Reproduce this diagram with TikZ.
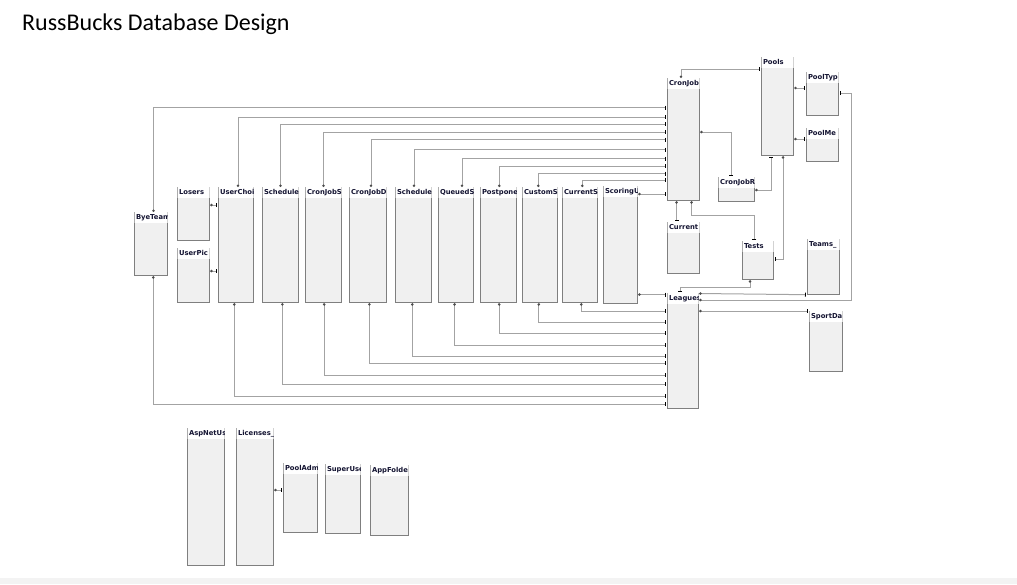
\documentclass[tikz,border=0pt]{standalone}
\usepackage{fontspec}
\usetikzlibrary{arrows.meta}
\newfontfamily\titlefont{Carlito}
\newfontfamily\tblfont{DejaVu Sans}
\definecolor{tblborder}{HTML}{7F7F7F}
\definecolor{tblfill}{HTML}{F0F0F0}
\definecolor{linegray}{HTML}{A3A3A3}
\definecolor{lblcolor}{HTML}{141432}
\definecolor{barfill}{HTML}{F3F3F3}
% header strip and clipped caption of a table box
\newcommand{\tblhead}[2]{%
  \begin{scope}
    \clip ([shift={(0.6pt,-0.6pt)}]#1.north west) rectangle ([shift={(-0.6pt,0.6pt)}]#1.south east);
    \fill[white] (#1.north west) rectangle ([yshift=-10.5pt]#1.north east);
    \node[lbl] (#1-head) at ([shift={(1.8pt,-2.4pt)}]#1.north west) {#2};
  \end{scope}}
\begin{document}
\begin{tikzpicture}[x=1pt, y=1pt,
        tbl/.style={draw=tblborder, fill=tblfill, line width=1.2pt, rectangle,
                    inner sep=0pt, anchor=north west},
        lbl/.style={anchor=north west, inner sep=0pt, text=lblcolor,
                    font=\tblfont\bfseries\fontsize{6.8}{8}\selectfont},
        rel/.style={draw=linegray, line width=1pt,
                    {Circle[open, length=2.4pt, width=2.4pt, color=black!70]}-{Bar[width=4pt, line width=0.8pt, sep=1.2pt, color=black]}}
    ]
    \useasboundingbox (0,-584) rectangle (1017,0);
    \fill[barfill] (0,-578) rectangle (1017,-584);

    \node[anchor=base west, inner sep=0pt, font=\titlefont\fontsize{24}{28}\selectfont] (title) at (22,-30) {RussBucks Database Design};

    % left block
    \node[tbl, minimum width=33pt, minimum height=63pt]  (byeteam)  at (134,-212) {};
    \node[tbl, minimum width=32pt, minimum height=53pt]  (losers)   at (177,-187) {};
    \node[tbl, minimum width=32pt, minimum height=54pt]  (userpic)  at (177,-248) {};
    \node[tbl, minimum width=35pt, minimum height=115pt] (userchoi) at (218,-187) {};
    \node[tbl, minimum width=36pt, minimum height=115pt] (sched1)   at (262,-187) {};
    \node[tbl, minimum width=36pt, minimum height=115pt] (cronjobs) at (305,-187) {};
    \node[tbl, minimum width=37pt, minimum height=115pt] (cronjobd) at (349,-187) {};
    \node[tbl, minimum width=36pt, minimum height=115pt] (sched2)   at (395,-187) {};
    \node[tbl, minimum width=35pt, minimum height=115pt] (queueds)  at (438,-187) {};
    \node[tbl, minimum width=36pt, minimum height=115pt] (postpone) at (480,-187) {};
    \node[tbl, minimum width=35pt, minimum height=115pt] (customs)  at (522,-187) {};
    \node[tbl, minimum width=35pt, minimum height=115pt] (currents) at (562,-187) {};
    \node[tbl, minimum width=34pt, minimum height=117pt] (scoringu) at (603,-186) {};

    % right block
    \node[tbl, minimum width=32pt, minimum height=122pt] (cronjob)  at (667,-78)  {};
    \node[tbl, minimum width=32pt, minimum height=98pt]  (pools)    at (761,-57)  {};
    \node[tbl, minimum width=32pt, minimum height=43pt]  (pooltyp)  at (806,-72)  {};
    \node[tbl, minimum width=32pt, minimum height=33pt]  (poolme)   at (806,-128) {};
    \node[tbl, minimum width=36pt, minimum height=24pt]  (cronjobr) at (718,-177) {};
    \node[tbl, minimum width=32pt, minimum height=51pt]  (currentt) at (667,-222) {};
    \node[tbl, minimum width=31pt, minimum height=38pt]  (tests)    at (742,-241) {};
    \node[tbl, minimum width=32pt, minimum height=54.5pt] (teams)   at (807,-239) {};
    \node[tbl, minimum width=31pt, minimum height=115pt] (leagues)  at (667,-293) {};
    \node[tbl, minimum width=33pt, minimum height=60pt]  (sportda)  at (809,-311) {};

    % bottom block
    \node[tbl, minimum width=37pt, minimum height=137pt] (aspnetus) at (187,-428) {};
    \node[tbl, minimum width=37pt, minimum height=137pt] (licenses) at (236,-428) {};
    \node[tbl, minimum width=34pt, minimum height=69pt]  (pooladm)  at (283,-463) {};
    \node[tbl, minimum width=35pt, minimum height=69pt]  (superuse) at (325,-464) {};
    \node[tbl, minimum width=38pt, minimum height=70pt]  (appfolde) at (370,-465) {};

    \tblhead{byeteam}{ByeTeam}   \tblhead{losers}{Losers}     \tblhead{userpic}{UserPic}
    \tblhead{userchoi}{UserChoi} \tblhead{sched1}{Schedule}   \tblhead{cronjobs}{CronJobS}
    \tblhead{cronjobd}{CronJobD} \tblhead{sched2}{Schedule}   \tblhead{queueds}{QueuedS}
    \tblhead{postpone}{Postpone} \tblhead{customs}{CustomS}   \tblhead{currents}{CurrentS}
    \tblhead{scoringu}{ScoringU} \tblhead{cronjob}{CronJob}   \tblhead{pools}{Pools}
    \tblhead{pooltyp}{PoolTyp}   \tblhead{poolme}{PoolMe}     \tblhead{cronjobr}{CronJobR}
    \tblhead{currentt}{Current}  \tblhead{tests}{Tests}       \tblhead{teams}{Teams\_}
    \tblhead{leagues}{Leagues}   \tblhead{sportda}{SportDa}   \tblhead{aspnetus}{AspNetUs}
    \tblhead{licenses}{Licenses\_} \tblhead{pooladm}{PoolAdm} \tblhead{superuse}{SuperUse}
    \tblhead{appfolde}{AppFolde}

    % into CronJob
    \draw[rel] ([xshift=19.5pt]byeteam.north west)  |- ([yshift=-29.5pt]cronjob.north west);
    \draw[rel] ([xshift=20pt]userchoi.north west)   |- ([yshift=-39pt]cronjob.north west);
    \draw[rel] ([xshift=18.5pt]sched1.north west)   |- ([yshift=-46pt]cronjob.north west);
    \draw[rel] ([xshift=18.5pt]cronjobs.north west) |- ([yshift=-54pt]cronjob.north west);
    \draw[rel] ([xshift=22pt]cronjobd.north west)   |- ([yshift=-61.5pt]cronjob.north west);
    \draw[rel] ([xshift=19pt]sched2.north west)     |- ([yshift=-71.5pt]cronjob.north west);
    \draw[rel] ([xshift=24pt]queueds.north west)    |- ([yshift=-80.5pt]cronjob.north west);
    \draw[rel] ([xshift=19.3pt]postpone.north west) |- ([yshift=-88pt]cronjob.north west);
    \draw[rel] ([xshift=16.3pt]customs.north west)  |- ([yshift=-95.7pt]cronjob.north west);
    \draw[rel] ([xshift=20.3pt]currents.north west) |- ([yshift=-102pt]cronjob.north west);
    \draw[rel] ([yshift=-8pt]scoringu.north east)   -- ([yshift=-116pt]cronjob.north west);

    % into Leagues
    \draw[rel] ([yshift=-108.5pt]scoringu.north east) -- ([yshift=-1.5pt]leagues.north west);
    \draw[rel] ([xshift=19.3pt]currents.south west) |- ([yshift=-18pt]leagues.north west);
    \draw[rel] ([xshift=16.8pt]customs.south west)  |- ([yshift=-29.3pt]leagues.north west);
    \draw[rel] ([xshift=19.2pt]postpone.south west) |- ([yshift=-40pt]leagues.north west);
    \draw[rel] ([xshift=16.5pt]queueds.south west)  |- ([yshift=-52pt]leagues.north west);
    \draw[rel] ([xshift=17.3pt]sched2.south west)   |- ([yshift=-63.3pt]leagues.north west);
    \draw[rel] ([xshift=20.4pt]cronjobd.south west) |- ([yshift=-70pt]leagues.north west);
    \draw[rel] ([xshift=19.2pt]cronjobs.south west) |- ([yshift=-82.3pt]leagues.north west);
    \draw[rel] ([xshift=20.4pt]sched1.south west)   |- ([yshift=-91.3pt]leagues.north west);
    \draw[rel] ([xshift=16.3pt]userchoi.south west) |- ([yshift=-103.3pt]leagues.north west);
    \draw[rel] ([xshift=19.3pt]byeteam.south west)  |- ([yshift=-111.3pt]leagues.north west);

    \draw[rel] ([yshift=-18pt]losers.north east)  -- ([yshift=-18pt]userchoi.north west);
    \draw[rel] ([yshift=-23pt]userpic.north east) -- ([yshift=-84pt]userchoi.north west);

    % right side
    \draw[rel] ([xshift=14pt]cronjob.north west)  |- ([yshift=-12pt]pools.north west);
    \draw[rel] ([yshift=-54pt]cronjob.north east) -| ([xshift=13pt]cronjobr.north west);
    \draw[rel] ([yshift=-13pt]cronjobr.north east) -| ([xshift=10pt]pools.south west);
    \draw[rel] ([yshift=-31pt]pools.north east) -- ([yshift=-16pt]pooltyp.north west);
    \draw[rel] ([yshift=-82pt]pools.north east) -- ([yshift=-11pt]poolme.north west);
    \draw[rel] ([xshift=22pt]pools.south west)  |- ([yshift=-18pt]tests.north east);
    \draw[rel] ([xshift=9.5pt]cronjob.south west) -- ([xshift=9.5pt]currentt.north west);
    \draw[rel] ([xshift=24.5pt]cronjob.south west) -- ++(0,-14) -| ([xshift=12.3pt]tests.north west);
    \draw[rel] ([xshift=8pt]tests.south west) -- ++(0,-7) -| ([xshift=13pt]leagues.north west);
    \draw[rel] ([yshift=-0.5pt]leagues.north east) -- (teams.south west);
    \draw[rel] ([yshift=-7pt]leagues.north east) -- ++(152.7,0) |- ([yshift=-21pt]pooltyp.north east);
    \draw[rel] ([yshift=-18pt]leagues.north east) -- (sportda.north west);

    \draw[rel] ([yshift=-62pt]licenses.north east) -- ([yshift=-27pt]pooladm.north west);
\end{tikzpicture}
\end{document}
